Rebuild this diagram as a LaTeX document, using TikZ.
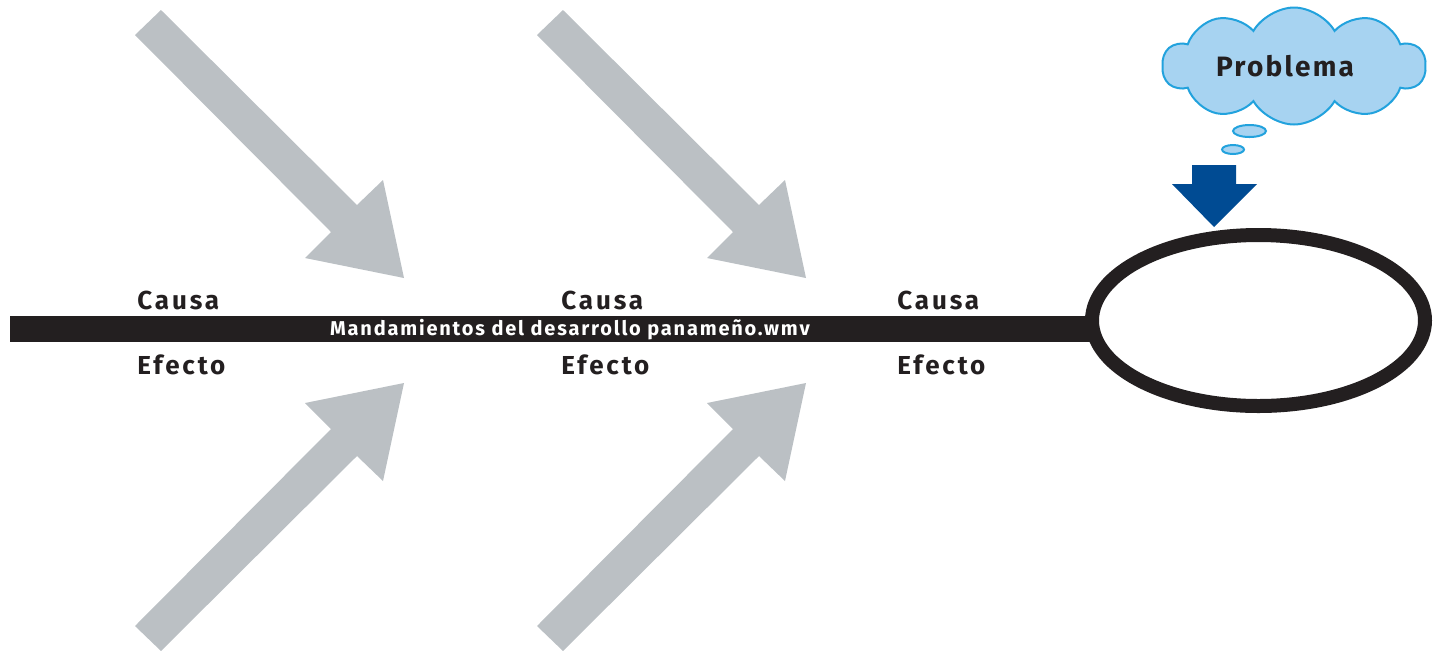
\documentclass[tikz,border=0pt]{standalone}
\usepackage{fontspec}
\setmainfont{Fira Sans}
\usetikzlibrary{shapes.symbols,shapes.geometric}
\definecolor{arrowgray}{HTML}{BBC0C4}
\definecolor{barblack}{HTML}{231F20}
\definecolor{darkblue}{HTML}{004B93}
\definecolor{cloudfill}{HTML}{A7D3F1}
\definecolor{cloudline}{HTML}{22A2DD}
\begin{document}
\begin{tikzpicture}[x=0.5pt,y=-0.5pt,
  bigarrow/.style={fill=arrowgray,draw=none},
  lbl/.style={font=\fontsize{13}{15}\selectfont\bfseries\addfontfeature{LetterSpace=11},
    text=barblack, anchor=base west, inner sep=0pt},
  bartext/.style={font=\fontsize{10}{12}\selectfont\bfseries\addfontfeature{LetterSpace=9},
    text=white, anchor=base, inner sep=0pt},
  bubble/.style={ellipse, fill=cloudfill, draw=cloudline, line width=1pt, inner sep=0pt}]
\useasboundingbox (0,0) rectangle (1437,650);

% gray arrows
\foreach \dx in {0,402}{
  \fill[bigarrow] (161+\dx,10) -- (357+\dx,205) -- (383+\dx,180) -- (404+\dx,278)
    -- (305+\dx,258) -- (331+\dx,232) -- (135+\dx,35) -- cycle;
  \fill[bigarrow] (161+\dx,651) -- (357+\dx,456) -- (383+\dx,481) -- (404+\dx,383)
    -- (305+\dx,403) -- (331+\dx,429) -- (135+\dx,626) -- cycle;
}

% problem ellipse and bar
\coordinate (barstart) at (10,328.5);
\node[ellipse, minimum width=166.5pt, minimum height=85.5pt, inner sep=0pt] (prob) at (1258.5,320.5) {};
\draw[barblack, line width=13pt] (barstart) -- (barstart -| prob.center);
\node[ellipse, draw=barblack, fill=white, line width=7pt, minimum width=166.5pt, minimum height=85.5pt, inner sep=0pt] (probdraw) at (prob.center) {};

\node[bartext] (title) at (570,335) {Mandamientos del desarrollo panameño.wmv};

% labels
\node[lbl] (c1) at (137,309) {Causa};
\node[lbl] (e1) at (137,374) {Efecto};
\node[lbl] (c2) at (561,309) {Causa};
\node[lbl] (e2) at (561,374) {Efecto};
\node[lbl] (c3) at (897,309) {Causa};
\node[lbl] (e3) at (897,374) {Efecto};

% cloud
\node[cloud, cloud puffs=10, cloud puff arc=120, cloud ignores aspect,
  minimum width=131.5pt, minimum height=58.5pt, inner sep=0pt,
  fill=cloudfill, draw=cloudline, line width=1pt] (cloudnode) at (1294,66) {};
\node[font=\fontsize{14}{17}\selectfont\bfseries\addfontfeature{LetterSpace=8}, text=barblack, inner sep=0pt] (problema) at (1285,66) {Problema};
\node[bubble, minimum width=16.5pt, minimum height=6pt] (b1) at (1249.5,131) {};
\node[bubble, minimum width=11pt, minimum height=4.5pt] (b2) at (1233,149.5) {};

% blue arrow
\fill[darkblue] (1192,165) -- (1236,165) -- (1236,184) -- (1257,184) -- (1214,227)
  -- (1172,184) -- (1192,184) -- cycle;
\end{tikzpicture}
\end{document}
